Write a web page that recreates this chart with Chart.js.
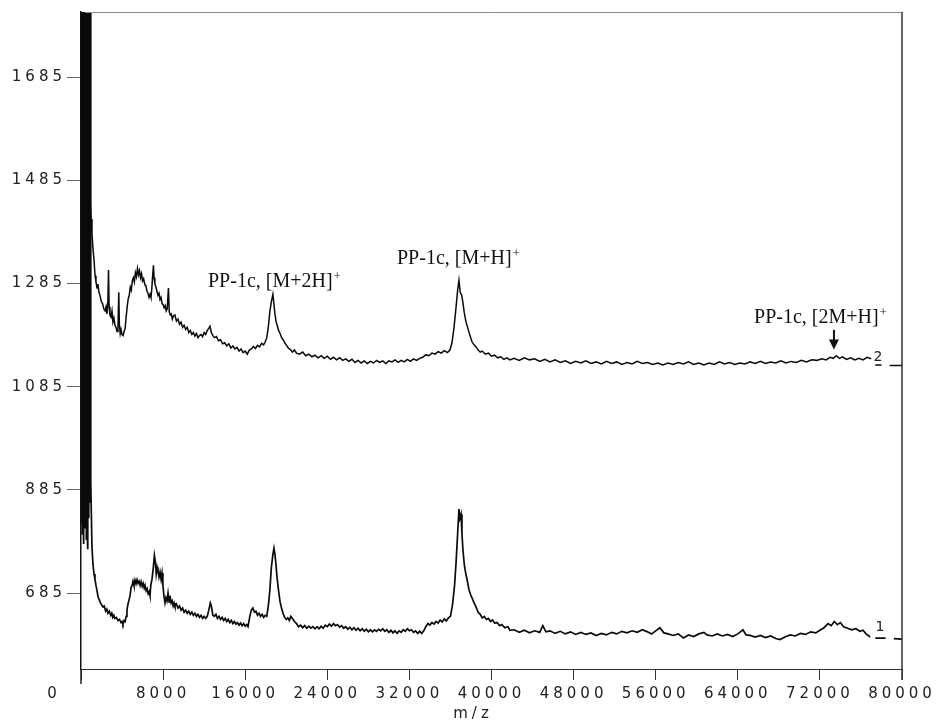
<!DOCTYPE html>
<html>
<head>
<meta charset="utf-8">
<title>PP-1c mass spectrum</title>
<script src="https://cdn.jsdelivr.net/npm/chart.js@4.4.1/dist/chart.umd.min.js"></script>
<style>
  html, body { margin: 0; padding: 0; background: #fff; }
  #wrap { width: 942px; height: 724px; }
</style>
</head>
<body>
<div id="wrap"><canvas id="spectrum" width="942" height="724"></canvas></div>
<script>
// axis ticks
const mzTicks = [0, 8000, 16000, 24000, 32000, 40000, 48000, 56000, 64000, 72000, 80000];
const intensityTicks = [685, 885, 1085, 1285, 1485, 1685];

// spectrum 2 (upper trace), [m/z, intensity]; null = gap in the trace
const trace2 = [
  [0,1960],[150,1990],[300,1970],[450,1985],[600,1900],[690,1690],[780,1560],[880,1450],[980,1410],[1070,1382],
  [1170,1352],[1270,1330],[1370,1300],[1460,1288],[1560,1276],[1650,1284],[1750,1268],[1850,1262],[1980,1250],[2100,1246],
  [2220,1236],[2340,1232],[2440,1240],[2530,1226],[2620,1250],[2680,1311],[2740,1240],[2820,1224],[2920,1220],[3020,1232],
  [3110,1210],[3210,1218],[3310,1204],[3410,1200],[3510,1192],[3600,1196],[3680,1268],[3740,1205],[3820,1188],[3900,1196],
  [4000,1186],[4100,1184],[4200,1192],[4300,1198],[4400,1220],[4500,1240],[4600,1255],[4700,1262],[4800,1278],[4900,1272],
  [5000,1290],[5100,1296],[5200,1288],[5300,1306],[5400,1298],[5500,1314],[5600,1302],[5700,1310],[5800,1296],[5900,1304],
  [6000,1290],[6100,1294],[6240,1282],[6330,1280],[6430,1270],[6530,1266],[6630,1258],[6730,1264],[6820,1258],[6900,1275],
  [6980,1300],[7060,1320],[7120,1296],[7200,1284],[7300,1278],[7400,1270],[7500,1262],[7600,1266],[7700,1254],[7800,1258],
  [7900,1246],[8000,1244],[8100,1238],[8200,1242],[8300,1232],[8400,1236],[8520,1276],[8600,1230],[8700,1224],[8800,1226],
  [8900,1216],[9000,1222],[9150,1224],[9300,1212],[9450,1216],[9600,1206],[9750,1210],[9900,1200],[10050,1204],[10200,1196],
  [10350,1200],[10500,1190],[10650,1194],[10800,1186],[10950,1190],[11100,1183],[11250,1188],[11400,1180],[11550,1184],[11700,1186],
  [11850,1182],[12000,1190],[12150,1186],[12300,1194],[12450,1198],[12570,1202],[12700,1190],[12850,1184],[13000,1180],[13200,1182],
  [13400,1174],[13600,1176],[13800,1168],[14000,1170],[14200,1164],[14400,1168],[14600,1160],[14800,1164],[15000,1158],[15200,1161],
  [15400,1154],[15600,1158],[15800,1151],[16000,1154],[16200,1148],[16400,1156],[16600,1158],[16800,1163],[17000,1159],[17200,1165],
  [17400,1162],[17600,1169],[17800,1166],[17950,1172],[18100,1180],[18250,1200],[18400,1230],[18550,1250],[18700,1264],[18800,1245],
  [18900,1226],[19000,1212],[19100,1205],[19250,1194],[19400,1188],[19550,1180],[19700,1176],[19850,1170],[20000,1166],[20200,1160],
  [20400,1157],[20600,1152],[20800,1156],[21000,1150],[21300,1148],[21600,1152],[21900,1145],[22200,1148],[22500,1143],[22800,1146],
  [23100,1141],[23400,1145],[23700,1140],[24000,1144],[24300,1138],[24600,1142],[24900,1137],[25200,1141],[25500,1136],[25800,1139],
  [26100,1134],[26400,1138],[26700,1132],[27000,1136],[27300,1131],[27600,1135],[27900,1130],[28200,1134],[28500,1131],[28800,1136],
  [29100,1132],[29400,1135],[29700,1130],[30000,1135],[30300,1133],[30600,1137],[30900,1132],[31200,1136],[31500,1133],[31800,1138],
  [32100,1134],[32400,1139],[32700,1136],[33000,1140],[33300,1142],[33600,1147],[33900,1145],[34200,1150],[34500,1148],[34800,1153],
  [35100,1150],[35400,1155],[35700,1151],[35950,1156],[36150,1170],[36350,1200],[36550,1240],[36700,1272],[36830,1291],[36950,1268],
  [37100,1262],[37200,1250],[37350,1228],[37500,1212],[37700,1198],[37900,1184],[38100,1172],[38300,1166],[38500,1162],[38700,1156],
  [38900,1152],[39100,1154],[39400,1148],[39700,1150],[40000,1144],[40300,1146],[40600,1141],[40900,1143],[41200,1138],[41500,1141],
  [41800,1137],[42200,1140],[42700,1136],[43200,1141],[43700,1137],[44200,1139],[44700,1134],[45200,1138],[45700,1133],[46200,1137],
  [46700,1132],[47200,1135],[47700,1130],[48200,1134],[48700,1131],[49200,1135],[49700,1130],[50200,1133],[50700,1129],[51200,1134],
  [51700,1130],[52200,1133],[52700,1128],[53200,1132],[53700,1129],[54200,1134],[54700,1130],[55200,1132],[55700,1128],[56200,1131],
  [56700,1127],[57200,1131],[57700,1128],[58200,1132],[58700,1129],[59200,1133],[59700,1128],[60200,1131],[60700,1127],[61200,1131],
  [61700,1128],[62200,1133],[62700,1129],[63200,1132],[63700,1128],[64200,1131],[64700,1129],[65200,1133],[65700,1130],[66200,1134],
  [66700,1130],[67200,1133],[67700,1131],[68200,1135],[68700,1131],[69200,1134],[69700,1132],[70200,1136],[70700,1133],[71200,1137],
  [71700,1136],[72200,1139],[72600,1137],[73000,1142],[73300,1140],[73600,1145],[73900,1140],[74200,1143],[74600,1138],[75000,1141],
  [75400,1137],[75800,1140],[76200,1137],[76600,1142],[77000,1139],
  [77200,null],[77400,1127],[78000,1127],[78400,null],[78800,1126],[80000,1126]
];

// spectrum 1 (lower trace); the first 900 Da are saturated and swing off scale
const trace1 = [
  [0,1900],[40,820],[80,2000],[120,800],[160,2000],[200,840],[240,2000],[280,780],[320,2000],[360,810],
  [400,2000],[440,830],[480,2000],[520,790],[560,2000],[600,800],[640,1950],[680,770],[720,2000],[760,830],
  [800,2000],[840,860],[880,1990],[950,900],[1070,774],[1170,740],[1270,722],[1360,712],[1460,700],[1560,690],[1660,678],
  [1780,672],[1900,666],[2020,662],[2140,658],[2260,660],[2400,650],[2520,654],[2630,646],[2760,650],[2900,642],
  [3000,646],[3100,638],[3200,642],[3300,636],[3450,638],[3600,632],[3750,634],[3900,628],[4000,630],[4090,625],
  [4200,632],[4300,630],[4400,640],[4480,652],[4580,664],[4680,672],[4780,680],[4880,696],[4980,700],[5070,708],
  [5160,700],[5260,710],[5360,703],[5460,711],[5560,704],[5660,708],[5760,700],[5860,707],[5960,698],[6060,704],
  [6160,695],[6240,700],[6340,690],[6440,694],[6540,684],[6640,688],[6723,680],[6800,700],[6918,712],[7050,735],
  [7150,758],[7250,745],[7330,722],[7420,735],[7500,728],[7600,716],[7700,726],[7800,712],[7893,724],[7980,700],
  [8080,680],[8185,666],[8280,676],[8380,670],[8480,685],[8580,668],[8672,680],[8780,666],[8880,670],[8980,660],
  [9080,666],[9159,660],[9300,664],[9450,656],[9600,660],[9750,652],[9900,656],[10050,648],[10200,652],[10350,646],
  [10500,650],[10650,644],[10800,648],[10950,642],[11100,646],[11250,640],[11400,644],[11550,638],[11700,642],[11850,636],
  [12000,640],[12150,636],[12300,640],[12450,652],[12600,666],[12700,660],[12850,642],[13000,640],[13150,644],[13300,636],
  [13450,640],[13600,634],[13750,638],[13900,632],[14050,636],[14200,630],[14350,634],[14500,628],[14650,632],[14800,626],
  [14950,630],[15100,625],[15250,628],[15400,623],[15550,627],[15700,622],[15850,626],[16000,621],[16150,624],[16272,620],
  [16450,640],[16600,652],[16750,656],[16900,648],[17050,650],[17200,642],[17350,646],[17500,640],[17650,644],[17800,638],
  [17950,642],[18100,640],[18250,660],[18400,690],[18550,735],[18700,760],[18800,772],[18900,760],[19000,740],[19100,716],
  [19250,690],[19400,668],[19550,655],[19700,645],[19850,638],[20000,634],[20150,637],[20300,632],[20450,640],[20600,636],
  [20800,630],[21000,626],[21200,620],[21400,623],[21600,618],[21800,622],[22000,617],[22200,621],[22400,617],[22600,620],
  [22800,616],[23000,620],[23200,616],[23400,621],[23600,617],[23800,623],[24000,620],[24200,625],[24400,621],[24600,626],
  [24800,622],[25000,624],[25200,619],[25400,622],[25600,617],[25800,620],[26000,615],[26200,619],[26400,614],[26600,618],
  [26800,613],[27000,617],[27200,612],[27400,616],[27600,611],[27800,615],[28000,610],[28200,614],[28400,610],[28600,614],
  [28800,611],[29000,615],[29200,612],[29400,616],[29600,611],[29800,614],[30000,609],[30200,613],[30400,608],[30600,612],
  [30800,607],[31000,612],[31200,609],[31400,614],[31600,611],[31800,616],[32000,612],[32200,614],[32400,609],[32600,612],
  [32800,607],[33000,611],[33200,607],[33400,612],[33600,620],[33800,626],[34000,623],[34200,628],[34400,625],[34600,630],
  [34800,627],[35000,633],[35200,629],[35400,635],[35600,631],[35800,637],[36000,640],[36200,662],[36400,700],[36550,745],
  [36700,800],[36830,848],[36920,830],[37030,838],[37120,800],[37220,768],[37350,740],[37500,722],[37612,712],[37800,692],
  [38000,680],[38100,676],[38300,666],[38500,658],[38700,648],[38900,644],[39100,637],[39300,640],[39500,634],[39700,636],
  [39900,630],[40100,633],[40300,627],[40535,628],[40800,622],[41000,624],[41300,618],[41600,620],[41802,613],[42200,614],
  [42700,609],[43200,613],[43700,608],[44200,612],[44700,609],[45000,622],[45300,610],[45700,612],[46200,607],[46700,611],
  [47200,606],[47700,610],[48200,605],[48700,609],[49200,605],[49700,608],[50200,603],[50700,607],[51200,604],[51700,609],
  [52200,606],[52700,611],[53200,608],[53700,612],[54200,609],[54700,614],[55200,610],[55600,606],[56000,612],[56400,618],
  [56800,608],[57200,606],[57700,603],[58200,606],[58700,598],[59200,604],[59700,601],[60200,606],[60700,609],[61000,604],
  [61500,602],[62000,606],[62500,602],[63000,605],[63500,601],[64000,606],[64500,614],[64800,604],[65200,603],[65700,600],
  [66200,603],[66700,599],[67200,602],[67700,597],[68100,595],[68600,600],[69100,604],[69600,602],[70100,607],[70600,605],
  [71100,610],[71600,608],[72000,613],[72400,618],[72800,626],[73100,622],[73400,630],[73700,624],[74000,628],[74300,620],
  [74700,617],[75100,614],[75500,616],[75900,611],[76200,613],[76500,606],[76900,600],
  [77200,null],[77400,598],[78400,598],[78800,null],[79200,597],[80000,596]
];

// peak annotations: text, m/z of text start, intensity of text baseline
const peakLabels = ["PP-1c, [M+2H]", "PP-1c, [M+H]", "PP-1c, [2M+H]"];
const peakLabelMz = [12375, 30790, 65580];
const peakLabelIntensity = [1279, 1323, 1208];
// arrow pointing at the dimer peak
const arrowMz = 73370;
const arrowFrom = 1195;
const arrowTo = 1157;
// trace numbers at the right end
const traceNames = ["1", "2"];
const traceNameMz = [77850, 77660];
const traceNameIntensity = [619, 1142];

const toXY = (rows) => rows.map(([x, y]) => ({ x, y }));

const frame = {
  id: "frame",
  beforeDraw(chart) {
    // wide, plotter-like spacing for the axis lettering
    chart.ctx.letterSpacing = "4px";
  },
  afterDraw(chart) {
    const { ctx, chartArea: a, scales } = chart;
    const x = scales.x, y = scales.y;
    ctx.save();
    // top and right edges of the plot box
    ctx.strokeStyle = "#8a8a8a";
    ctx.lineWidth = 1;
    ctx.beginPath();
    ctx.moveTo(a.left + 4, a.top + 0.5);
    ctx.lineTo(a.right, a.top + 0.5);
    ctx.stroke();
    ctx.strokeStyle = "#333";
    ctx.lineWidth = 1.5;
    ctx.beginPath();
    ctx.moveTo(a.right, a.top);
    ctx.lineTo(a.right, a.bottom + 11);
    ctx.stroke();
    // y axis runs on below the x axis
    ctx.strokeStyle = "#222";
    ctx.beginPath();
    ctx.moveTo(a.left, a.bottom);
    ctx.lineTo(a.left, a.bottom + 15);
    ctx.stroke();

    // "0" sits left of the origin; axis title
    ctx.fillStyle = "#222";
    ctx.font = "15px 'DejaVu Sans'";
    ctx.textBaseline = "middle";
    ctx.textAlign = "center";
    ctx.fillText("0", a.left - 27, 694);
    ctx.fillText("m/z", x.getPixelForValue(38200), 714);

    // peak labels with superscript charge
    ctx.letterSpacing = "0px";
    ctx.fillStyle = "#111";
    ctx.textBaseline = "alphabetic";
    ctx.textAlign = "left";
    peakLabels.forEach((t, i) => {
      const px = x.getPixelForValue(peakLabelMz[i]);
      const py = y.getPixelForValue(peakLabelIntensity[i]);
      ctx.font = "20px 'Liberation Serif'";
      ctx.fillText(t, px, py);
      const w = ctx.measureText(t).width;
      ctx.font = "13px 'Liberation Serif'";
      ctx.fillText("+", px + w + 1, py - 7);
    });

    // arrow
    const ax = x.getPixelForValue(arrowMz);
    const ay0 = y.getPixelForValue(arrowFrom);
    const ay1 = y.getPixelForValue(arrowTo);
    ctx.strokeStyle = "#111";
    ctx.lineWidth = 2;
    ctx.beginPath();
    ctx.moveTo(ax, ay0);
    ctx.lineTo(ax, ay1 - 8);
    ctx.stroke();
    ctx.beginPath();
    ctx.moveTo(ax - 5, ay1 - 10);
    ctx.lineTo(ax + 5, ay1 - 10);
    ctx.lineTo(ax, ay1);
    ctx.closePath();
    ctx.fill();

    // trace numbers
    ctx.font = "14px 'DejaVu Sans'";
    ctx.textAlign = "center";
    ctx.textBaseline = "middle";
    ctx.fillStyle = "#222";
    traceNames.forEach((t, i) => {
      ctx.fillText(t, x.getPixelForValue(traceNameMz[i]), y.getPixelForValue(traceNameIntensity[i]));
    });
    ctx.restore();
  }
};

const lineStyle = {
  borderColor: "#0a0a0a",
  borderWidth: 1.5,
  pointRadius: 0,
  tension: 0,
  spanGaps: false,
  fill: false,
};

new Chart(document.getElementById("spectrum"), {
  type: "line",
  data: {
    datasets: [
      { label: "2", data: toXY(trace2), ...lineStyle },
      { label: "1", data: toXY(trace1), ...lineStyle, borderWidth: 1.7 },
    ],
  },
  options: {
    responsive: false,
    animation: false,
    events: [],
    layout: { padding: { top: 12, right: 40, left: 0, bottom: 0 } },
    plugins: { legend: { display: false }, tooltip: { enabled: false } },
    scales: {
      x: {
        type: "linear",
        min: 0,
        max: 80000,
        afterBuildTicks: (s) => { s.ticks = mzTicks.map(v => ({ value: v })); },
        afterFit: (s) => { s.height = 55; },
        border: { display: true, color: "#333", width: 1 },
        grid: { drawOnChartArea: false, drawTicks: true, tickLength: 11, color: "#333", lineWidth: 1 },
        ticks: {
          padding: 5,
          maxRotation: 0,
          autoSkip: false,
          color: "#222",
          font: { family: "'DejaVu Sans'", size: 15 },
          callback: (v) => v === 0 ? "" : String(v),
        },
      },
      y: {
        type: "linear",
        min: 538,
        max: 1811,
        afterBuildTicks: (s) => { s.ticks = intensityTicks.map(v => ({ value: v })); },
        afterFit: (s) => { s.width = 81; },
        border: { display: true, color: "#111", width: 1.5 },
        grid: { drawOnChartArea: false, drawTicks: true, tickLength: 14, color: "#666", lineWidth: 1 },
        ticks: {
          padding: 1,
          autoSkip: false,
          color: "#222",
          font: { family: "'DejaVu Sans'", size: 15 },
          callback: (v) => String(v),
        },
      },
    },
  },
  plugins: [frame],
});
</script>
</body>
</html>
